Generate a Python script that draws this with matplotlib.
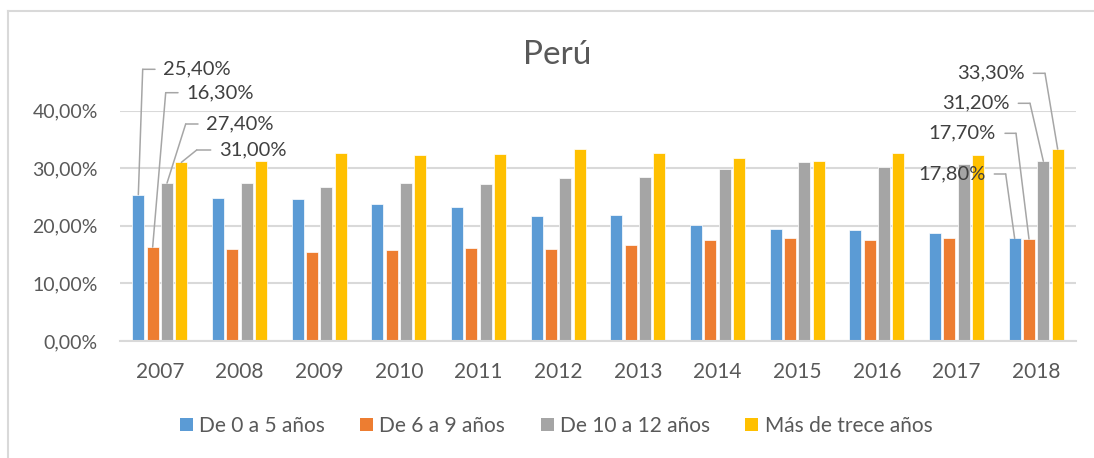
import matplotlib
matplotlib.use('Agg')
import matplotlib.pyplot as plt
import numpy as np
from matplotlib.lines import Line2D
from matplotlib.patches import Patch

plt.rcParams['font.family'] = ['Lato', 'DejaVu Sans']

years = ['2007', '2008', '2009', '2010', '2011', '2012',
         '2013', '2014', '2015', '2016', '2017', '2018']
series_names = ['De 0 a 5 años', 'De 6 a 9 años', 'De 10 a 12 años', 'Más de trece años']
age_0_5 = [25.4, 24.8, 24.7, 23.8, 23.2, 21.7, 21.8, 20.2, 19.4, 19.3, 18.7, 17.8]
age_6_9 = [16.3, 16.0, 15.5, 15.8, 16.2, 16.0, 16.6, 17.6, 17.8, 17.6, 17.9, 17.7]
age_10_12 = [27.4, 27.5, 26.7, 27.5, 27.3, 28.3, 28.5, 29.9, 31.1, 30.2, 30.8, 31.2]
age_13 = [31.0, 31.3, 32.7, 32.3, 32.5, 33.4, 32.7, 31.8, 31.2, 32.6, 32.3, 33.3]
yticks = [0, 10, 20, 30, 40]

colors = ['#5B9BD5', '#ED7D31', '#A5A5A5', '#FFC000']
text_col = '#595959'
grid_col = '#D9D9D9'

W, H = 1094, 458
fig = plt.figure(figsize=(W / 100, H / 100), dpi=100)
ax = fig.add_axes([120 / W, 1 - 341 / H, (1076 - 120) / W, (341 - 110.5) / H])

all_series = [age_0_5, age_6_9, age_10_12, age_13]
x = np.arange(len(years))
pitch = 0.18
width = 0.147
bar_x = []
for j, vals in enumerate(all_series):
    xs = x + (j - 1.5) * pitch
    bar_x.append(xs)
    ax.bar(xs, vals, width, color=colors[j], edgecolor='white', linewidth=0.5, zorder=3)

ax.set_xlim(-0.5, len(years) - 0.5)
ax.set_ylim(0, 40)
ax.set_yticks(yticks)
ax.set_yticklabels(['{:.2f}%'.format(v).replace('.', ',') for v in yticks])
ax.set_xticks(x)
ax.set_xticklabels(years)
ax.tick_params(axis='y', length=0, pad=16, labelsize=14, labelcolor=text_col)
ax.tick_params(axis='x', length=0, pad=15, labelsize=15, labelcolor=text_col)
ax.yaxis.grid(True, color=grid_col, linewidth=1.5, zorder=0)
for s in ['top', 'right', 'left']:
    ax.spines[s].set_visible(False)
ax.spines['bottom'].set_color(grid_col)
ax.spines['bottom'].set_linewidth(1.5)
ax.spines['bottom'].set_zorder(4)

# callouts: (series, year index, elbow x, elbow y, end x, side) in image pixels
callouts = [
    (0, 0, 142.7, 69.3, 155.0, 'left'),
    (1, 0, 165.7, 92.7, 178.0, 'left'),
    (2, 0, 185.7, 124.0, 198.0, 'left'),
    (3, 0, 196.7, 150.0, 210.7, 'left'),
    (3, 11, 1045.0, 73.3, 1033.3, 'right'),
    (2, 11, 1030.0, 103.3, 1018.3, 'right'),
    (1, 11, 1016.0, 133.3, 1005.0, 'right'),
    (0, 11, 1005.7, 174.0, 994.3, 'right'),
]
line_col = '#A6A6A6'
for j, i, ex, ey, hx, side in callouts:
    v = all_series[j][i]
    ax.annotate('', xy=(bar_x[j][i], v), xycoords='data',
                xytext=(ex, H - ey), textcoords='figure pixels',
                arrowprops=dict(arrowstyle='-', color=line_col, lw=1.1,
                                shrinkA=0, shrinkB=0), zorder=5)
    ax.annotate('', xy=(ex, H - ey), xycoords='figure pixels',
                xytext=(hx, H - ey), textcoords='figure pixels',
                arrowprops=dict(arrowstyle='-', color=line_col, lw=1.1,
                                shrinkA=0, shrinkB=0), zorder=5)
    label = '{:.2f}%'.format(v).replace('.', ',')
    if side == 'left':
        tx, ha = hx + 8, 'left'
    else:
        tx, ha = hx - 9, 'right'
    ax.annotate(label, xy=(tx, H - ey), xycoords='figure pixels',
                ha=ha, va='center', fontsize=14.5, color='#404040')

fig.text(557 / W, 1 - 55 / H, 'Perú', ha='center', va='center',
         fontsize=24, color=text_col)

handles = [Patch(facecolor=c, edgecolor='none') for c in colors]
fig.legend(handles, series_names, loc='center', bbox_to_anchor=(556 / W, 1 - 426 / H),
           ncol=4, frameon=False, fontsize=15, labelcolor=text_col,
           handlelength=0.62, handleheight=0.62, handletextpad=0.3, columnspacing=1.7)

# chart border
fig.add_artist(Line2D([8 / W, 8 / W], [0, 1 - 11 / H], color=grid_col, lw=1.5))
fig.add_artist(Line2D([8 / W, 1], [1 - 11 / H, 1 - 11 / H], color=grid_col, lw=1.5))

fig.savefig('out.png', dpi=100)
